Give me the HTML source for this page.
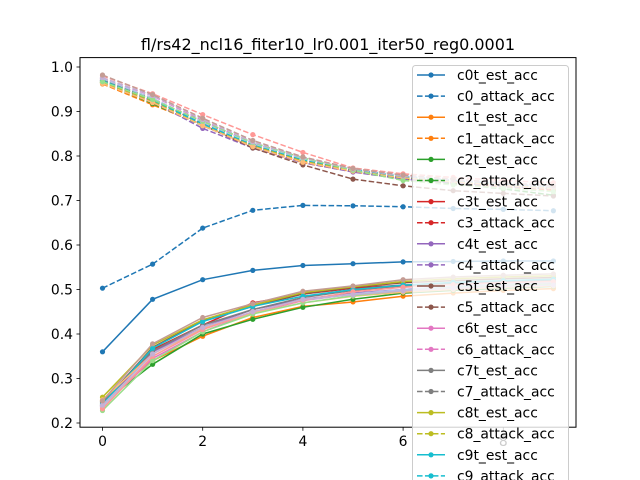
<!DOCTYPE html>
<html><head><meta charset="utf-8"><style>
body{margin:0;background:#fff}
svg{display:block;font-family:"DejaVu Sans","Liberation Sans",sans-serif}
</style></head><body>
<svg id="chart" width="640" height="480" viewBox="0 0 640 480" xmlns="http://www.w3.org/2000/svg">
<rect width="640" height="480" fill="#fff"/>
<text x="328" y="50" font-size="16" text-anchor="middle" fill="#000">fl/rs42_ncl16_fiter10_lr0.001_iter50_reg0.0001</text>
<g id="plot"></g>
<rect x="80" y="57.6" width="496" height="369.6" fill="none" stroke="#000" stroke-width="1"/>
<g id="axes"></g>
<g id="legend"></g>
</svg>
<script>
const iterations=[0,1,2,3,4,5,6,7,8,9];
const classNames=["c0","c1","c2","c3","c4","c5","c6","c7","c8","c9","c10","c11","c12","c13","c14","c15"];
const estAcc=[
[0.360,0.478,0.522,0.543,0.554,0.558,0.562,0.563,0.564,0.564],
[0.250,0.340,0.395,0.437,0.462,0.472,0.485,0.492,0.498,0.502],
[0.245,0.332,0.400,0.433,0.460,0.478,0.492,0.498,0.503,0.507],
[0.240,0.365,0.420,0.470,0.490,0.503,0.510,0.515,0.518,0.520],
[0.238,0.360,0.415,0.455,0.478,0.492,0.500,0.506,0.510,0.513],
[0.245,0.370,0.430,0.462,0.490,0.505,0.515,0.520,0.524,0.527],
[0.235,0.345,0.405,0.448,0.475,0.490,0.500,0.507,0.511,0.514],
[0.248,0.362,0.420,0.455,0.482,0.498,0.508,0.514,0.518,0.521],
[0.258,0.375,0.432,0.465,0.493,0.506,0.518,0.524,0.528,0.531],
[0.242,0.368,0.428,0.462,0.485,0.500,0.510,0.516,0.520,0.523],
[0.236,0.350,0.410,0.450,0.476,0.490,0.500,0.507,0.512,0.516],
[0.252,0.355,0.412,0.447,0.470,0.485,0.494,0.500,0.505,0.508],
[0.228,0.340,0.405,0.445,0.470,0.486,0.497,0.504,0.509,0.512],
[0.232,0.350,0.410,0.450,0.476,0.495,0.505,0.511,0.515,0.518],
[0.240,0.355,0.415,0.450,0.478,0.488,0.497,0.503,0.507,0.510],
[0.250,0.378,0.437,0.468,0.496,0.508,0.522,0.528,0.532,0.535]];
const attackAcc=[
[0.503,0.557,0.638,0.678,0.689,0.688,0.686,0.682,0.680,0.677],
[0.962,0.915,0.870,0.820,0.785,0.765,0.748,0.738,0.730,0.722],
[0.965,0.918,0.868,0.822,0.787,0.766,0.750,0.738,0.726,0.712],
[0.970,0.925,0.875,0.825,0.790,0.768,0.752,0.742,0.733,0.725],
[0.968,0.922,0.862,0.818,0.785,0.764,0.748,0.740,0.732,0.726],
[0.972,0.930,0.870,0.818,0.780,0.748,0.733,0.722,0.716,0.710],
[0.975,0.935,0.880,0.828,0.795,0.770,0.755,0.746,0.738,0.731],
[0.970,0.928,0.873,0.823,0.790,0.767,0.751,0.742,0.734,0.727],
[0.966,0.924,0.870,0.824,0.788,0.768,0.752,0.743,0.735,0.728],
[0.969,0.926,0.872,0.826,0.792,0.770,0.754,0.745,0.737,0.730],
[0.974,0.930,0.876,0.828,0.794,0.771,0.756,0.747,0.739,0.732],
[0.963,0.920,0.868,0.821,0.786,0.766,0.751,0.742,0.734,0.727],
[0.967,0.927,0.878,0.830,0.796,0.768,0.745,0.735,0.728,0.720],
[0.980,0.940,0.893,0.848,0.808,0.773,0.760,0.752,0.745,0.740],
[0.976,0.936,0.882,0.832,0.797,0.771,0.755,0.746,0.738,0.731],
[0.982,0.938,0.885,0.835,0.798,0.772,0.757,0.748,0.740,0.733]];
const colors=["#1f77b4","#ff7f0e","#2ca02c","#d62728","#9467bd","#8c564b","#e377c2","#7f7f7f","#bcbd22","#17becf","#aec7e8","#ffbb78","#98df8a","#ff9896","#c5b0d5","#c49c94"];
const yTicks=[0.2,0.3,0.4,0.5,0.6,0.7,0.8,0.9,1.0];
const xTicks=[0,2,4,6,8];

const NS="http://www.w3.org/2000/svg";
function xs(v){return 102.5+v*50.1;}
function ys(v){return 423-(v-0.2)*445;}
function mk(tag,attrs,parent){const e=document.createElementNS(NS,tag);for(const k in attrs)e.setAttribute(k,attrs[k]);parent.appendChild(e);return e;}

const plot=document.getElementById('plot');
classNames.forEach((c,i)=>{
  [[estAcc[i],false,c+'t-est-acc'],[attackAcc[i],true,c+'-attack-acc']].forEach(([vals,dashed,nm])=>{
    const g=mk('g',{},plot);
    
    
    const pts=vals.map((v,j)=>xs(iterations[j]).toFixed(1)+','+ys(v).toFixed(1)).join(' ');
    const pl=mk('polyline',{points:pts,fill:'none',stroke:colors[i],'stroke-width':1.5,'stroke-dasharray':dashed?'5.55,2.4':'none'},g);
    
    
    vals.forEach((v,j)=>{
      const m=mk('circle',{cx:xs(iterations[j]),cy:ys(v),r:2.6,fill:colors[i]},g);
      
      
    });
  });
});

const axes=document.getElementById('axes');
yTicks.forEach(t=>{
  const y=ys(t);
  const l=mk('line',{x1:76.5,x2:80,y1:y,y2:y,stroke:'#000','stroke-width':0.8},axes);
  
  
  const tx=mk('text',{x:73,y:y+4.8,'font-size':13.9,'text-anchor':'end',fill:'#000'},axes);
  tx.textContent=t.toFixed(1);
  
  
});
xTicks.forEach(t=>{
  const x=xs(t);
  const l=mk('line',{x1:x,x2:x,y1:427.2,y2:430.7,stroke:'#000','stroke-width':0.8},axes);
  
  
  const tx=mk('text',{x:x,y:446,'font-size':13.9,'text-anchor':'middle',fill:'#000'},axes);
  tx.textContent=String(t);
  
  
});

const leg=document.getElementById('legend');
const box=mk('rect',{x:412.5,y:65.5,width:156,height:430,rx:3,fill:'#fff','fill-opacity':0.8,stroke:'#cccccc','stroke-width':1},leg);


let k=0;
classNames.forEach((c,i)=>{
  [[c+'t_est_acc',false],[c+'_attack_acc',true]].forEach(([label,dashed])=>{
    const y=75+k*21.1;k++;
    if(y>490)return;
    const g=mk('g',{},leg);
    
    
    mk('line',{x1:417,x2:445,y1:y,y2:y,stroke:colors[i],'stroke-width':1.5,'stroke-dasharray':dashed?'5.55,2.4':'none'},g);
    mk('circle',{cx:431,cy:y,r:2.6,fill:colors[i]},g);
    const tx=mk('text',{x:457,y:y+5,'font-size':13.9,fill:'#000'},g);
    tx.textContent=label;
  });
});
</script>
</body></html>
